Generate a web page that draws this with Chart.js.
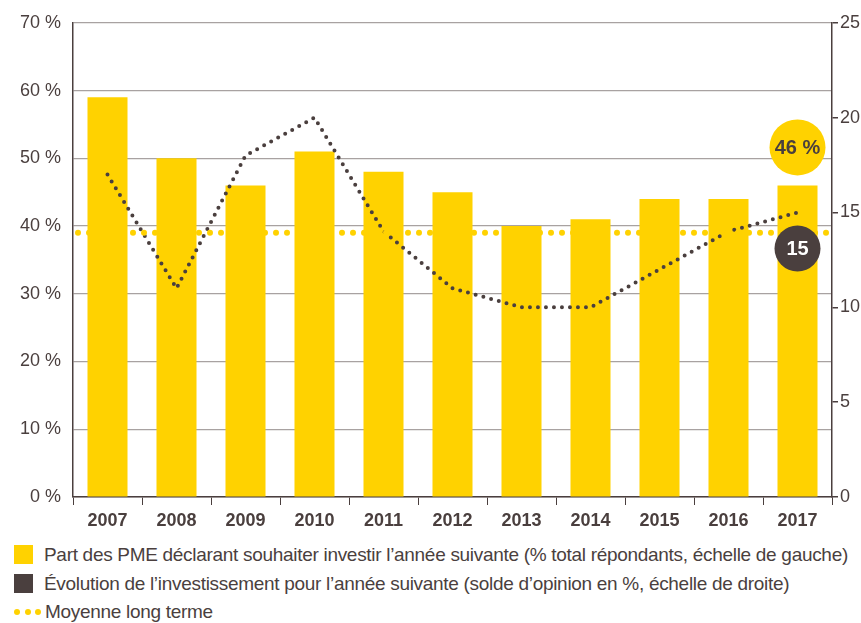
<!DOCTYPE html>
<html>
<head>
<meta charset="utf-8">
<script src="https://cdn.jsdelivr.net/npm/chart.js@4.4.1/dist/chart.umd.min.js"></script>
<style>
  body { margin: 0; background: #fff; font-family: "Liberation Sans", Arial, sans-serif; color: #4a3f3e; overflow: hidden; }
  #wrap { width: 861px; height: 540px; position: relative; }
  .legend { margin: 0 0 0 14px; font-size: 19px; letter-spacing: -0.3px; white-space: nowrap; }
  .row { height: 29px; display: flex; align-items: center; }
  .row.last { height: 27px; }
  .sq { width: 19px; height: 19px; margin-right: 11px; display: inline-block; }
  .dots { width: 27px; margin-right: 4px; display: inline-flex; justify-content: space-between; }
  .dots i { width: 6px; height: 6px; border-radius: 3px; background: #ffd200; display: inline-block; }
</style>
</head>
<body>
<div id="wrap"><canvas id="chart"></canvas></div>
<div class="legend">
  <div class="row"><span class="sq" style="background:#ffd200"></span>Part des PME déclarant souhaiter investir l’année suivante (% total répondants, échelle de gauche)</div>
  <div class="row"><span class="sq" style="background:#4a3f3e"></span>Évolution de l’investissement pour l’année suivante (solde d’opinion en %, échelle de droite)</div>
  <div class="row last"><span class="dots"><i></i><i></i><i></i></span>Moyenne long terme</div>
</div>
<script>
const years = ['2007','2008','2009','2010','2011','2012','2013','2014','2015','2016','2017'];
const partPME = [59, 50, 46, 51, 48, 45, 40, 41, 44, 44, 46];
const soldeOpinion = [17, 11, 18, 20, 14, 11, 10, 10, 12, 14, 15];
const moyenneLongTerme = 39;

const yellow = '#ffd200';
const dark = '#4a3f3e';
const gridGray = '#a8a2a1';

// long-term average dotted line across the whole plot area
const avgLine = {
    id: 'avgLine',
    afterDatasetsDraw(chart) {
        const { ctx, chartArea } = chart;
        const y = chart.scales.y.getPixelForValue(moyenneLongTerme);
        ctx.save();
        ctx.fillStyle = yellow;
        for (let x = chartArea.left + 5; x < chartArea.right; x += 11) {
            ctx.beginPath();
            ctx.arc(x, y, 3, 0, Math.PI * 2);
            ctx.fill();
        }
        ctx.restore();
    }
};

// value badges for the last year
const badges = {
    id: 'badges',
    afterDraw(chart) {
        const { ctx } = chart;
        const last = years.length - 1;
        const bar = chart.getDatasetMeta(0).data[last];
        const pt = chart.getDatasetMeta(1).data[last];
        ctx.save();
        ctx.textAlign = 'center';
        ctx.textBaseline = 'middle';
        ctx.font = 'bold 20px "Liberation Sans", Arial, sans-serif';

        ctx.fillStyle = yellow;
        ctx.beginPath();
        ctx.arc(bar.x, bar.y - 38, 28, 0, Math.PI * 2);
        ctx.fill();
        ctx.fillStyle = dark;
        ctx.fillText(partPME[last] + ' %', bar.x, bar.y - 37);

        ctx.fillStyle = dark;
        ctx.beginPath();
        ctx.arc(pt.x, pt.y + 36, 23, 0, Math.PI * 2);
        ctx.fill();
        ctx.fillStyle = '#fff';
        ctx.fillText(String(soldeOpinion[last]), pt.x, pt.y + 37);
        ctx.restore();
    }
};

new Chart(document.getElementById('chart').getContext('2d'), {
    data: {
        labels: years,
        datasets: [
            {
                type: 'bar',
                data: partPME,
                backgroundColor: yellow,
                yAxisID: 'y',
                barPercentage: 0.58,
                categoryPercentage: 1,
                order: 2
            },
            {
                type: 'line',
                data: soldeOpinion,
                yAxisID: 'y1',
                borderColor: dark,
                borderWidth: 4,
                borderDash: [0, 8],
                borderCapStyle: 'round',
                pointRadius: 0,
                tension: 0,
                fill: false,
                order: 1
            }
        ]
    },
    options: {
        responsive: true,
        maintainAspectRatio: false,
        animation: false,
        layout: { padding: { top: 21, left: 0, right: 0, bottom: 0 } },
        plugins: { legend: { display: false }, tooltip: { enabled: false } },
        scales: {
            x: {
                offset: true,
                grid: { display: true, drawOnChartArea: false, offset: true, tickLength: 8, color: dark },
                border: { color: dark, width: 1.5 },
                ticks: { color: dark, font: { family: '"Liberation Sans", Arial', size: 18, weight: 'bold' }, padding: 5 },
                afterFit(scale) { scale.height = 43; }
            },
            y: {
                position: 'left',
                min: 0,
                max: 70,
                ticks: {
                    stepSize: 10,
                    color: dark,
                    padding: 12,
                    font: { family: '"Liberation Sans", Arial', size: 18 },
                    callback: v => v + ' %'
                },
                grid: { color: gridGray, lineWidth: 1.2, drawTicks: false },
                border: { color: dark, width: 1.5 },
                afterFit(scale) { scale.width = 73; }
            },
            y1: {
                position: 'right',
                min: 0,
                max: 25,
                ticks: {
                    stepSize: 5,
                    color: dark,
                    padding: 2,
                    font: { family: '"Liberation Sans", Arial', size: 18 }
                },
                grid: { drawOnChartArea: false, tickLength: 6, color: dark, lineWidth: 1.5 },
                border: { color: dark, width: 1.5 },
                afterFit(scale) { scale.width = 29; }
            }
        }
    },
    plugins: [avgLine, badges]
});
</script>
</body>
</html>
